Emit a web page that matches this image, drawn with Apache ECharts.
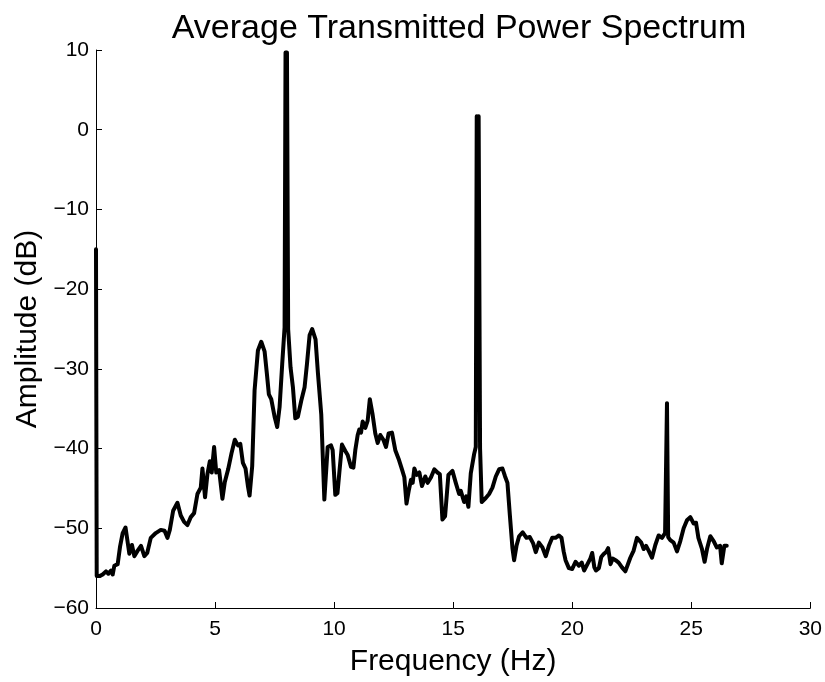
<!DOCTYPE html>
<html>
<head>
<meta charset="utf-8">
<script src="https://cdn.jsdelivr.net/npm/echarts@6/dist/echarts.min.js"></script>
<style>html,body{margin:0;padding:0;background:#fff}#c{width:825px;height:682px}</style>
</head>
<body>
<div id="c"></div>
<script>
const titleText = "Average Transmitted Power Spectrum";
const xName = "Frequency (Hz)";
const yName = "Amplitude (dB)";
const xTicks = [0, 5, 10, 15, 20, 25, 30];
const yTicks = [-60, -50, -40, -30, -20, -10, 0, 10];

const freq = [
0.00,0.03,0.15,0.28,0.42,0.52,0.63,0.70,0.77,0.91,1.01,1.12,1.24,1.40,1.51,1.61,1.75,1.89,2.03,2.15,
2.30,2.51,2.72,2.88,3.00,3.10,3.24,3.42,3.56,3.70,3.84,3.98,4.12,4.26,4.40,4.47,4.58,4.68,4.78,4.86,
4.96,5.05,5.17,5.31,5.41,5.55,5.69,5.83,5.96,6.06,6.17,6.28,6.38,6.45,6.56,6.66,6.80,6.94,7.08,7.18,
7.26,7.36,7.50,7.61,7.71,7.82,7.92,7.96,7.99,8.02,8.07,8.17,8.27,8.37,8.48,8.62,8.76,8.86,8.97,9.08,
9.22,9.32,9.46,9.59,9.73,9.87,9.94,10.05,10.14,10.22,10.33,10.47,10.57,10.71,10.81,10.89,10.99,11.06,11.13,11.20,
11.31,11.41,11.50,11.61,11.73,11.83,11.94,12.07,12.18,12.29,12.43,12.57,12.71,12.85,12.95,13.04,13.14,13.23,13.30,13.37,
13.47,13.58,13.69,13.83,13.93,14.07,14.21,14.34,14.44,14.55,14.66,14.80,14.97,15.11,15.25,15.32,15.46,15.55,15.64,15.74,
15.88,15.95,15.99,16.03,16.07,16.13,16.20,16.37,16.51,16.65,16.79,16.93,17.07,17.18,17.28,17.38,17.49,17.56,17.66,17.77,
17.92,18.08,18.22,18.36,18.47,18.60,18.75,18.89,19.02,19.16,19.30,19.44,19.55,19.64,19.72,19.86,20.00,20.14,20.28,20.40,
20.50,20.64,20.76,20.84,20.93,21.00,21.12,21.22,21.33,21.42,21.51,21.61,21.70,21.82,21.95,22.09,22.23,22.30,22.44,22.58,
22.72,22.79,22.90,23.00,23.10,23.21,23.35,23.49,23.63,23.77,23.90,23.96,23.98,24.01,24.03,24.12,24.26,24.40,24.54,24.68,
24.82,24.96,25.10,25.20,25.30,25.45,25.56,25.66,25.80,25.94,26.07,26.21,26.28,26.39,26.49
];
const amplitude = [
-15,-56.0,-56.0,-55.8,-55.4,-55.7,-55.3,-55.8,-54.7,-54.5,-52.3,-50.6,-49.9,-53.2,-52.1,-53.5,-52.8,-52.2,-53.5,-53.1,
-51.2,-50.6,-50.2,-50.3,-51.2,-50.2,-47.8,-46.8,-48.4,-49.2,-49.6,-48.6,-48.1,-45.7,-44.9,-42.5,-46.1,-43.2,-41.6,-43.0,
-39.8,-43.0,-42.7,-46.3,-44.2,-42.6,-40.6,-38.9,-39.6,-39.4,-41.8,-42.5,-44.7,-45.9,-42.2,-32.7,-27.7,-26.6,-27.8,-30.7,
-33.2,-33.8,-36.0,-37.3,-34.8,-29.4,-24.8,9.7,-20,9.7,-25,-29.8,-32.3,-36.2,-36.0,-34.0,-32.3,-29.4,-25.8,-25.0,
-26.3,-30.5,-35.7,-46.4,-39.8,-39.6,-40.2,-45.8,-45.6,-43.0,-39.5,-40.3,-40.8,-42.3,-42.4,-40.2,-38.3,-37.6,-38.0,-36.6,
-37.4,-36.5,-33.8,-35.6,-38.1,-39.3,-38.3,-38.9,-39.8,-38.1,-38.0,-40.2,-41.3,-42.6,-43.6,-46.9,-45.2,-43.9,-44.3,-42.5,
-43.3,-43.0,-44.7,-43.5,-44.3,-43.6,-42.6,-43.0,-43.2,-48.9,-48.5,-43.3,-42.8,-44.3,-45.7,-45.3,-46.7,-46.0,-47.3,-43.1,
-40.7,-39.8,1.7,-20,1.7,-40,-46.7,-46.2,-45.7,-44.9,-43.5,-42.6,-42.5,-43.5,-44.3,-48.3,-52.5,-54.0,-52.2,-51.0,
-50.5,-51.2,-51.1,-51.9,-53.0,-51.8,-52.4,-53.5,-52.2,-51.2,-51.2,-50.9,-51.2,-52.9,-54.0,-55.0,-55.1,-54.2,-54.7,-54.3,
-55.3,-54.5,-53.8,-53.1,-54.9,-55.3,-55.0,-53.6,-53.2,-53.0,-52.5,-54.5,-53.8,-54.0,-54.3,-54.9,-55.4,-55.2,-53.7,-52.8,
-51.2,-51.1,-51.8,-52.6,-52.2,-52.8,-53.7,-52.1,-50.9,-51.2,-50.6,-50.6,-34.3,-34.3,-51.1,-51.5,-51.8,-52.9,-51.6,-50.0,
-49.0,-48.6,-49.4,-49.3,-51.2,-52.6,-54.2,-52.6,-51.0,-51.6,-52.4,-52.2,-54.4,-52.2,-52.2
];

const data = freq.map((f, i) => [f, amplitude[i]]);
const font = "'Liberation Sans', Arial, Helvetica, sans-serif";

const chart = echarts.init(document.getElementById('c'), null, {renderer: 'canvas'});
chart.setOption({
  animation: false,
  backgroundColor: '#fff',
  title: {
    text: titleText, left: 454, top: 7, textAlign: 'center',
    textStyle: {fontFamily: font, fontSize: 34, fontWeight: 'normal', color: '#000'}
  },
  grid: {left: 96, right: 13, top: 50, bottom: 68, containLabel: false},
  xAxis: {
    type: 'value', min: 0, max: 30, interval: 5,
    name: xName, nameLocation: 'middle', nameGap: 39,
    nameTextStyle: {fontFamily: font, fontSize: 30, color: '#000'},
    axisLine: {show: true, onZero: false, lineStyle: {color: '#000', width: 1}},
    axisTick: {show: true, inside: true, length: 6, lineStyle: {color: '#000'}},
    axisLabel: {fontFamily: font, fontSize: 21, color: '#000', margin: 11,
      formatter: v => xTicks.includes(v) ? String(v) : ''},
    splitLine: {show: false}
  },
  yAxis: {
    type: 'value', min: -60, max: 10, interval: 10,
    name: yName, nameLocation: 'middle', nameGap: 52, nameRotate: 90,
    nameTextStyle: {fontFamily: font, fontSize: 30, color: '#000'},
    axisLine: {show: true, onZero: false, lineStyle: {color: '#000', width: 1}},
    axisTick: {show: true, inside: true, length: 6, lineStyle: {color: '#000'}},
    axisLabel: {fontFamily: font, fontSize: 21, color: '#000', margin: 7,
      formatter: v => yTicks.includes(v) ? String(v).replace('-', '\u2212') : ''},
    splitLine: {show: false}
  },
  series: [{
    type: 'line', data: data, showSymbol: false, symbol: 'none',
    lineStyle: {color: '#000', width: 4, join: 'round', cap: 'round'},
    clip: false
  }]
});
</script>
</body>
</html>
